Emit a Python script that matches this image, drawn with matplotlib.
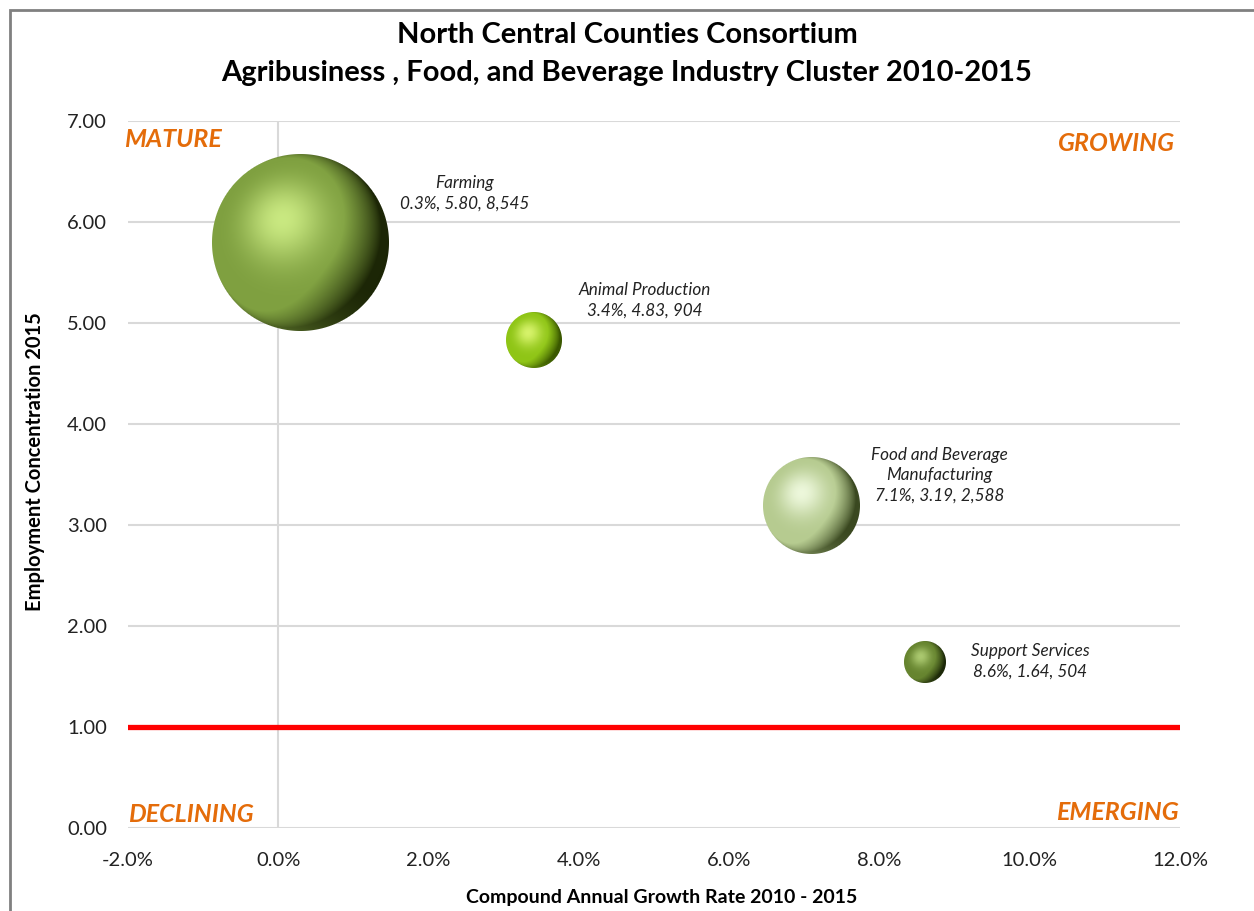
import numpy as np
import matplotlib.pyplot as plt
from matplotlib.colors import to_rgb
from matplotlib.patches import Rectangle
from matplotlib.offsetbox import OffsetImage, AnnotationBbox

plt.rcParams['font.family'] = ['Lato', 'DejaVu Sans']

# data
names = ['Farming', 'Animal Production', 'Food and Beverage\nManufacturing', 'Support Services']
growth = [0.3, 3.4, 7.1, 8.6]          # CAGR 2010-2015 (%)
concentration = [5.80, 4.83, 3.19, 1.64]
employment = [8545, 904, 2588, 504]
x_ticks = [-2, 0, 2, 4, 6, 8, 10, 12]
y_ticks = [0, 1, 2, 3, 4, 5, 6, 7]

# sphere colours: dark rim, body, highlight
rims = ['#1c2606', '#3a5800', '#3a4820', '#1c2808']
bodies = ['#7fa040', '#8fc516', '#b6cb90', '#66842f']
lights = ['#d6f58c', '#e2fa78', '#f6ffe8', '#b6d47a']
label_off = [(118, 35), (80, 29), (92, 22), (76, 1)]


def sphere(d, rim, body, light):
    d = int(round(d))
    u = np.linspace(-1, 1, d)
    X, Y = np.meshgrid(u, -u)
    R2 = X ** 2 + Y ** 2
    Z = np.sqrt(np.clip(1 - R2, 0, 1))
    L = np.array([-0.42, 0.30, 0.86])
    L = L / np.linalg.norm(L)
    diff = np.clip(X * L[0] + Y * L[1] + Z * L[2], 0, 1)
    back = np.clip(-0.45 * X - 0.85 * Y, 0, 1) ** 2 * 0.55
    spec = np.clip(X * -0.20 + Y * 0.26 + Z * 0.945, 0, 1) ** 9
    rim, body, light = [np.array(to_rgb(c)) for c in (rim, body, light)]
    t = np.clip(diff * 1.7 + back, 0, 1)[..., None]
    col = rim + (body - rim) * t
    col = col + (light - col) * np.clip(spec * 0.85, 0, 1)[..., None]
    alpha = np.clip((1 - np.sqrt(R2)) * d / 2, 0, 1)
    return np.dstack([np.clip(col, 0, 1), alpha])


fig = plt.figure(figsize=(12.54, 9.11), dpi=100)
ax = fig.add_axes([128 / 1254, 83 / 911, 1052 / 1254, 707 / 911])

ax.set_xlim(-2, 12)
ax.set_ylim(0, 7)
ax.set_xticks(x_ticks)
ax.set_xticklabels([f'{v:.1f}%' for v in x_ticks])
ax.set_yticks(y_ticks)
ax.set_yticklabels([f'{v:.2f}' for v in y_ticks])
ax.tick_params(length=0, labelsize=14.5, colors='#222222')
ax.tick_params(axis='x', pad=17)
ax.tick_params(axis='y', pad=15)
for s in ax.spines.values():
    s.set_visible(False)
ax.set_axisbelow(True)
ax.grid(axis='y', color='#d9d9d9', lw=1.5)
ax.axvline(0, color='#d9d9d9', lw=1.5, zorder=1)
ax.axhline(1, color='#ff0000', lw=3.8, zorder=2)

# bubbles drawn as shaded spheres, diameter from employment
for i in range(len(names)):
    d = 2 * 0.97 * np.sqrt(employment[i])
    img = OffsetImage(sphere(d, rims[i], bodies[i], lights[i]), zoom=72 / fig.dpi)
    ab = AnnotationBbox(img, (growth[i], concentration[i]), frameon=False, pad=0,
                        zorder=3)
    ax.add_artist(ab)
    ax.annotate(f'{names[i]}\n{growth[i]:.1f}%, {concentration[i]:.2f}, {employment[i]:,}',
                (growth[i], concentration[i]), xytext=label_off[i],
                textcoords='offset points', ha='center', va='center',
                fontsize=12.3, style='italic', color='#222222', linespacing=1.35)

# quadrant labels
qkw = dict(color='#e46c0a', fontsize=18, fontweight='bold', style='italic')
ax.text(-2.05, 6.82, 'MATURE', ha='left', va='center', **qkw)
ax.text(11.93, 6.78, 'GROWING', ha='right', va='center', **qkw)
ax.text(-2.0, 0.13, 'DECLINING', ha='left', va='center', **qkw)
ax.text(11.98, 0.15, 'EMERGING', ha='right', va='center', **qkw)

fig.text(662 / 1254, 1 - 898 / 911, 'Compound Annual Growth Rate 2010 - 2015',
         ha='center', va='center', fontsize=14, fontweight='bold')
fig.text(35 / 1254, 1 - 462 / 911, 'Employment Concentration 2015', rotation=90,
         ha='center', va='center', fontsize=14.5, fontweight='bold')

fig.text(0.5, 1 - 35 / 911, 'North Central Counties Consortium', ha='center',
         va='center', fontsize=21, fontweight='bold')
fig.text(0.5, 1 - 73 / 911, 'Agribusiness , Food, and Beverage Industry Cluster 2010-2015',
         ha='center', va='center', fontsize=21, fontweight='bold')

# chart border
fig.patches.append(Rectangle((10 / 1254, -0.1), 1.2, 0.1 + 901 / 911, transform=fig.transFigure,
                             fill=False, ec='#808080', lw=2))

plt.savefig('out.png', dpi=100)
